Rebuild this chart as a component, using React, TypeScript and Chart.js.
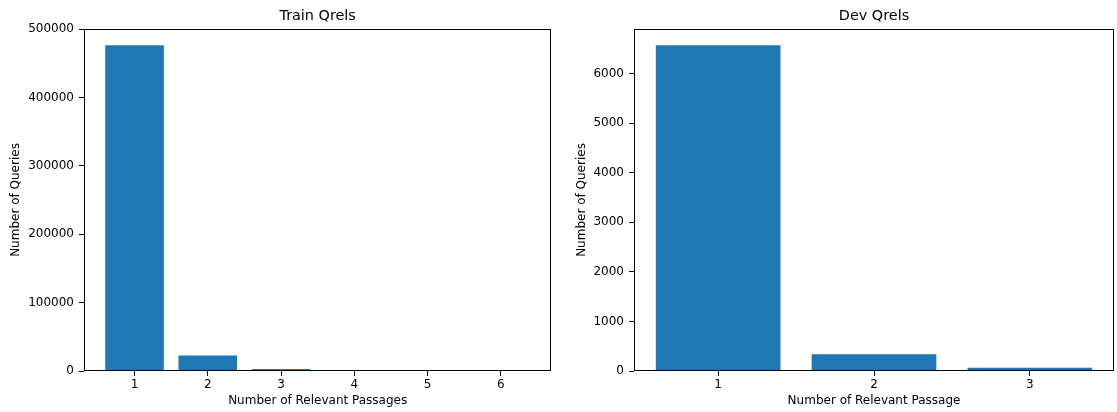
import React, { useEffect, useRef } from "react";
import { Chart, registerables } from "chart.js";

Chart.register(...registerables);

const trainCategories = [1, 2, 3, 4, 5, 6];
const trainCounts = [476500, 22500, 2800, 1200, 200, 40];
const trainYTicks = [0, 100000, 200000, 300000, 400000, 500000];
const trainTitle = "Train Qrels";
const trainXLabel = "Number of Relevant Passages";

const devCategories = [1, 2, 3];
const devCounts = [6570, 340, 65];
const devYTicks = [0, 1000, 2000, 3000, 4000, 5000, 6000];
const devTitle = "Dev Qrels";
const devXLabel = "Number of Relevant Passage";

const yLabel = "Number of Queries";

const FONT = "'DejaVu Sans', sans-serif";
const BAR_COLOR = "#1f77b4";

const framePlugin = {
  id: "frame",
  afterDraw(chart: any) {
    const { ctx, chartArea } = chart;
    const l = Math.round(chartArea.left) + 0.5;
    const t = Math.round(chartArea.top) + 0.5;
    const r = Math.round(chartArea.right) - 0.5;
    const b = Math.round(chartArea.bottom) - 0.5;
    ctx.save();
    ctx.strokeStyle = "#000";
    ctx.lineWidth = 1;
    ctx.strokeRect(l, t, r - l, b - t);
    ctx.restore();
  },
};

type PanelProps = {
  title: string;
  xLabel: string;
  categories: number[];
  counts: number[];
  yTicks: number[];
  yAxisWidth: number;
  yTitlePad: number;
  rightPad: number;
  left: number;
  width: number;
};

function Panel(p: PanelProps) {
  const ref = useRef<HTMLCanvasElement | null>(null);
  useEffect(() => {
    if (!ref.current) return;
    const lo = p.categories[0] - 0.4;
    const hi = p.categories[p.categories.length - 1] + 0.4;
    const m = (hi - lo) * 0.05;
    const yMax = Math.max(...p.counts) * 1.05;
    const tickFont = { family: FONT, size: 12 };
    const chart = new Chart(ref.current, {
      type: "bar",
      data: {
        datasets: [
          {
            data: p.categories.map((c, i) => ({ x: c, y: p.counts[i] })),
            backgroundColor: BAR_COLOR,
            borderWidth: 0,
            categoryPercentage: 1,
            barPercentage: 0.8,
          } as any,
        ],
      },
      options: {
        animation: false,
        responsive: false,
        maintainAspectRatio: false,
        layout: { padding: { left: 0, right: p.rightPad, top: 0, bottom: 0 } },
        plugins: {
          legend: { display: false },
          tooltip: { enabled: false },
          title: {
            display: true,
            text: p.title,
            fullSize: false,
            color: "#000",
            font: { family: FONT, size: 14.4, weight: "normal" },
            padding: { top: 7.3, bottom: 4.4 },
          },
        },
        scales: {
          x: {
            type: "linear",
            offset: false,
            min: lo - m,
            max: hi + m,
            afterBuildTicks: (ax: any) => {
              ax.ticks = p.categories.map((v) => ({ value: v }));
            },
            afterFit: (s: any) => {
              s.height = 41;
            },
            ticks: {
              color: "#000",
              font: tickFont,
              padding: 2,
              callback: (v: any) => String(v),
            },
            grid: { offset: false, drawOnChartArea: false, tickLength: 5, color: "#000" },
            border: { display: false },
            title: {
              display: true,
              text: p.xLabel,
              color: "#000",
              font: tickFont,
              padding: { top: 0, bottom: 3.8 },
            },
          },
          y: {
            type: "linear",
            min: 0,
            max: yMax,
            afterBuildTicks: (ax: any) => {
              ax.ticks = p.yTicks.filter((v) => v <= yMax).map((v) => ({ value: v }));
            },
            afterFit: (s: any) => {
              s.width = p.yAxisWidth;
            },
            ticks: {
              color: "#000",
              font: tickFont,
              padding: 5,
              callback: (v: any) => String(v),
            },
            grid: { drawOnChartArea: false, tickLength: 5, color: "#000" },
            border: { display: false },
            title: {
              display: true,
              text: yLabel,
              color: "#000",
              font: tickFont,
              padding: { top: p.yTitlePad, bottom: 0 },
            },
          },
        },
      } as any,
      plugins: [framePlugin],
    });
    return () => chart.destroy();
  }, []);
  return (
    <canvas
      ref={ref}
      width={p.width}
      height={412}
      style={{ position: "absolute", left: p.left, top: 0, width: p.width, height: 412 }}
    />
  );
}

export default function App() {
  return (
    <div style={{ position: "absolute", left: 0, top: 0, width: 1117, height: 412, background: "#fff" }}>
      <Panel
        title={trainTitle}
        xLabel={trainXLabel}
        categories={trainCategories}
        counts={trainCounts}
        yTicks={trainYTicks}
        yAxisWidth={84}
        yTitlePad={8.8}
        rightPad={6.7}
        left={0}
        width={558}
      />
      <Panel
        title={devTitle}
        xLabel={devXLabel}
        categories={devCategories}
        counts={devCounts}
        yTicks={devYTicks}
        yAxisWidth={76}
        yTitlePad={16.8}
        rightPad={3}
        left={558}
        width={559}
      />
    </div>
  );
}
